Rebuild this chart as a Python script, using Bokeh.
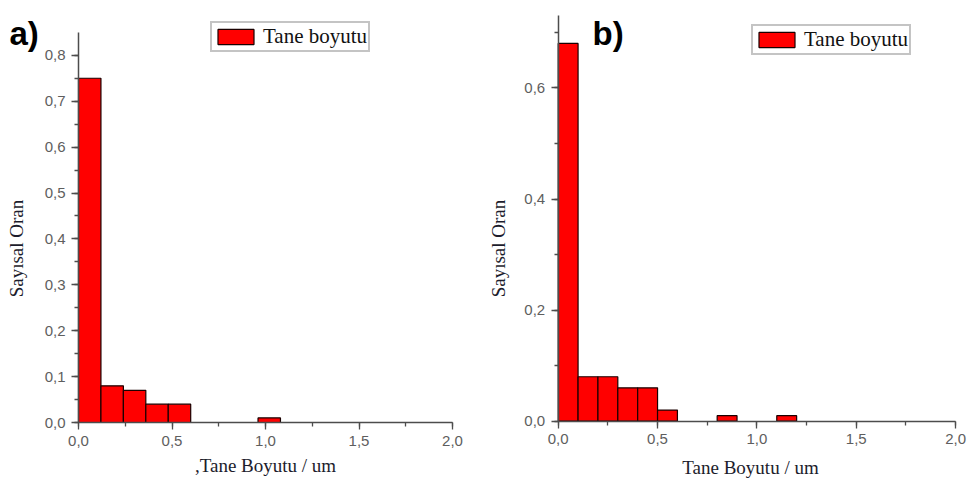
from math import pi
from bokeh.plotting import figure
from bokeh.models import (SingleIntervalTicker, CustomJSTickFormatter, Label, Range1d)
from bokeh.layouts import row
from bokeh.embed import file_html
from bokeh.resources import INLINE

# ---- data ----
a_bin_left = [0.00, 0.12, 0.24, 0.36, 0.48, 0.96]
a_fraction = [0.75, 0.08, 0.07, 0.04, 0.04, 0.01]
a_bin_width = 0.12

b_bin_left = [0.0, 0.1, 0.2, 0.3, 0.4, 0.5, 0.8, 1.1]
b_fraction = [0.68, 0.08, 0.08, 0.06, 0.06, 0.02, 0.01, 0.01]
b_bin_width = 0.1

x_axis_max = 2.0
x_major_step = 0.5
a_y_axis_max = 0.85
a_y_major_step = 0.1
b_y_axis_max = 0.73
b_y_major_step = 0.2

legend_label = "Tane boyutu"
y_title = "Sayısal Oran"
a_x_title = ",Tane Boyutu / um"
b_x_title = "Tane Boyutu / um"
a_tag = "a)"
b_tag = "b)"

# ---- layout / style ----
FIG_W = 486
FIG_H = 481
SERIF = "Liberation Serif"
SANS = "Liberation Sans"
AXIS_COL = "#4d4d4d"
TICK_TXT = "#5e5e5e"


def make_panel(lefts, vals, width, y_max, y_step, x_title, tag,
               origin_px, px_per_x, px_per_y, leg_xy, xlab_xy, ylab_xy, tag_xy):
    ox, oy = origin_px  # pixel position (in this figure) of data point (0, 0)
    x_range = Range1d(-ox / px_per_x, (FIG_W - ox) / px_per_x)
    y_range = Range1d(-(FIG_H - oy) / px_per_y, oy / px_per_y)
    p = figure(width=FIG_W, height=FIG_H, output_backend="svg", toolbar_location=None,
               x_range=x_range, y_range=y_range,
               min_border_left=0, min_border_right=0, min_border_top=0,
               min_border_bottom=0)
    p.outline_line_color = None
    p.grid.visible = False
    p.background_fill_color = "white"
    p.border_fill_color = "white"

    rights = [l + width for l in lefts]
    p.quad(left=lefts, right=rights, bottom=0, top=vals,
           fill_color="#ff0000", line_color="#1a0000", line_width=1.2,
           legend_label=legend_label)

    fmt = CustomJSTickFormatter(code="return tick.toFixed(1).replace('.', ',');")
    p.xaxis.ticker = SingleIntervalTicker(interval=x_major_step, num_minor_ticks=2)
    p.yaxis.ticker = SingleIntervalTicker(interval=y_step, num_minor_ticks=2)
    p.xaxis.bounds = (0, x_axis_max)
    p.yaxis.bounds = (0, y_max)
    p.xaxis.fixed_location = 0
    p.yaxis.fixed_location = 0
    for ax in (p.xaxis, p.yaxis):
        ax.formatter = fmt
        ax.axis_line_color = AXIS_COL
        ax.axis_line_width = 1.5
        ax.major_tick_line_color = AXIS_COL
        ax.minor_tick_line_color = AXIS_COL
        ax.major_tick_line_width = 1.3
        ax.minor_tick_line_width = 1.3
        ax.major_tick_out = 7
        ax.major_tick_in = 0
        ax.minor_tick_out = 4
        ax.minor_tick_in = 0
        ax.major_label_text_font = SANS
        ax.major_label_text_font_size = "15px"
        ax.major_label_text_color = TICK_TXT
    p.xaxis.major_label_standoff = 6
    p.yaxis.major_label_standoff = 6

    leg = p.legend[0]
    leg.location = leg_xy
    leg.padding = 1
    leg.margin = 0
    leg.spacing = 0
    leg.glyph_width = 45
    leg.glyph_height = 19
    leg.label_standoff = 5
    leg.label_text_font = SERIF
    leg.label_text_font_size = "21px"
    leg.label_text_color = "#111111"
    leg.label_height = 18
    leg.border_line_color = "#8a8a8a"
    leg.border_line_width = 2
    leg.background_fill_color = "white"
    leg.background_fill_alpha = 1.0

    p.add_layout(Label(x=xlab_xy[0], y=xlab_xy[1], x_units="screen", y_units="screen",
                       text=x_title, text_align="center", text_baseline="middle",
                       text_font=SERIF, text_font_size="19px", text_color="#1c1c2c"))
    p.add_layout(Label(x=ylab_xy[0], y=ylab_xy[1], x_units="screen", y_units="screen",
                       text=y_title, angle=pi / 2, text_align="center", text_baseline="middle",
                       text_font=SERIF, text_font_size="19px", text_color="#1c1c2c"))
    p.add_layout(Label(x=tag_xy[0], y=tag_xy[1], x_units="screen", y_units="screen",
                       text=tag, text_align="left", text_baseline="alphabetic",
                       text_font=SANS, text_font_style="bold", text_font_size="33px",
                       text_color="#000000"))
    return p


pa = make_panel(a_bin_left, a_fraction, a_bin_width, a_y_axis_max, a_y_major_step,
                a_x_title, a_tag,
                origin_px=(78, 422), px_per_x=187, px_per_y=459,
                leg_xy=(210, 429), xlab_xy=(265, 16), ylab_xy=(16, 233), tag_xy=(9, 448))
pb = make_panel(b_bin_left, b_fraction, b_bin_width, b_y_axis_max, b_y_major_step,
                b_x_title, b_tag,
                origin_px=(71.7, 420.7), px_per_x=198.7, px_per_y=555.5,
                leg_xy=(265, 426), xlab_xy=(264, 14), ylab_xy=(12, 233), tag_xy=(106, 448))

layout = row(pa, pb)
open("out.html", "w").write(file_html(layout, INLINE))
